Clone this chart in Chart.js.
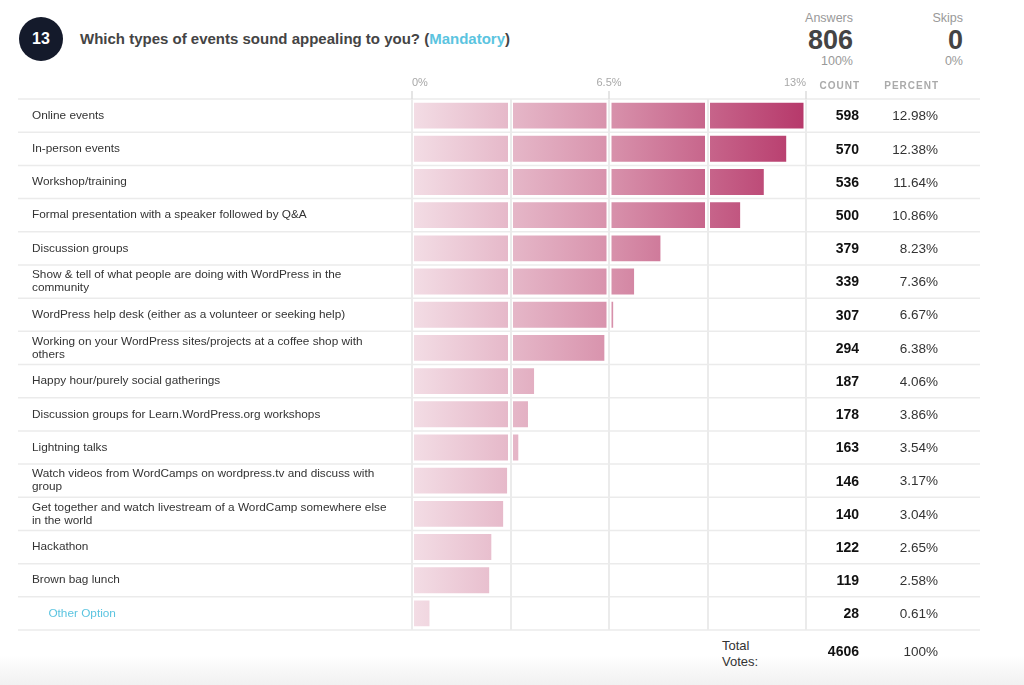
<!DOCTYPE html>
<html><head><meta charset="utf-8">
<script src="https://cdn.jsdelivr.net/npm/chart.js@4.4.1/dist/chart.umd.min.js"></script>
<style>
html,body{margin:0;padding:0;background:#fff;width:1024px;height:685px;overflow:hidden;font-family:"Liberation Sans",Arial,Helvetica,sans-serif;}
#wrap{position:relative;width:1024px;height:685px;}
.badge{position:absolute;left:19px;top:17px;width:44px;height:44px;border-radius:50%;background:#141a2b;color:#fff;font-weight:bold;font-size:16px;line-height:44px;text-align:center;}
.title{position:absolute;left:80px;top:30px;font-size:15px;font-weight:bold;color:#444;white-space:nowrap;}
.title span{color:#5bc4e0;}
.s{position:absolute;text-align:right;white-space:nowrap;line-height:1;}
.lab{color:#999;font-size:12.5px;}
.big{color:#444;font-size:27px;font-weight:bold;}
.tot{position:absolute;left:722px;top:638px;font-size:13px;line-height:16px;color:#333;}
.shade{position:absolute;left:0;right:0;bottom:0;height:30px;background:linear-gradient(rgba(244,244,244,0),#f1f1f1);}
#box{position:absolute;left:0;top:70px;width:1024px;height:600px;}
</style></head>
<body><div id="wrap">
<div class="shade"></div>
<div class="badge">13</div>
<div class="title">Which types of events sound appealing to you? (<span>Mandatory</span>)</div>
<div class="s lab" style="right:171px;top:12px;">Answers</div>
<div class="s big" style="right:171px;top:27px;">806</div>
<div class="s lab" style="right:171px;top:55px;">100%</div>
<div class="s lab" style="right:61px;top:12px;">Skips</div>
<div class="s big" style="right:61px;top:27px;">0</div>
<div class="s lab" style="right:61px;top:55px;">0%</div>
<div class="tot">Total<br>Votes:</div>
<div id="box"><canvas id="c"></canvas></div>
</div>
<script>
const categories = [
  "Online events",
  "In-person events",
  "Workshop/training",
  "Formal presentation with a speaker followed by Q&A",
  "Discussion groups",
  ["Show & tell of what people are doing with WordPress in the", "community"],
  "WordPress help desk (either as a volunteer or seeking help)",
  ["Working on your WordPress sites/projects at a coffee shop with", "others"],
  "Happy hour/purely social gatherings",
  "Discussion groups for Learn.WordPress.org workshops",
  "Lightning talks",
  ["Watch videos from WordCamps on wordpress.tv and discuss with", "group"],
  ["Get together and watch livestream of a WordCamp somewhere else", "in the world"],
  "Hackathon",
  "Brown bag lunch",
  "Other Option"
];
const counts = [598, 570, 536, 500, 379, 339, 307, 294, 187, 178, 163, 146, 140, 122, 119, 28];
const percents = [12.98, 12.38, 11.64, 10.86, 8.23, 7.36, 6.67, 6.38, 4.06, 3.86, 3.54, 3.17, 3.04, 2.65, 2.58, 0.61];
const totalVotes = 4606;
const totalPercent = "100%";
const axisMax = 13;
const axisStep = 3.25;

const FONT = '"Liberation Sans", Arial, Helvetica, sans-serif';
Chart.defaults.font.family = FONT;
const last = categories.length - 1;

const tablePlugin = {
  id: 'table',
  beforeDatasetsDraw(chart) {
    const ctx = chart.ctx, ys = chart.scales.y;
    const half = (ys.getPixelForValue(1) - ys.getPixelForValue(0)) / 2;
    ctx.save();
    ctx.strokeStyle = '#ebebeb'; ctx.lineWidth = 1.5;
    for (let i = 0; i <= categories.length; i++) {
      const y = (i < categories.length ? ys.getPixelForValue(i) - half : ys.getPixelForValue(last) + half);
      ctx.beginPath(); ctx.moveTo(18, y); ctx.lineTo(980, y); ctx.stroke();
    }
    ctx.restore();
  },
  afterDatasetsDraw(chart) {
    const ctx = chart.ctx, xs = chart.scales.x;
    const bars = chart.getDatasetMeta(0).data;
    ctx.save(); ctx.strokeStyle = '#fff'; ctx.lineWidth = 5;
    bars.forEach(b => {
      const p = b.getProps(['x', 'y', 'base', 'height'], true);
      xs.ticks.forEach(t => {
        const x = xs.getPixelForValue(t.value);
        if (x > p.base + 1 && x < p.x + 3) {
          ctx.beginPath(); ctx.moveTo(x, p.y - p.height / 2); ctx.lineTo(x, p.y + p.height / 2); ctx.stroke();
        }
      });
    });
    ctx.restore();
  },
  afterDraw(chart) {
    const ctx = chart.ctx, ys = chart.scales.y, a = chart.chartArea;
    ctx.save();
    ctx.textBaseline = 'middle'; ctx.textAlign = 'right';
    ctx.fillStyle = '#aaa';
    ctx.font = 'bold 10px ' + FONT;
    if ('letterSpacing' in ctx) ctx.letterSpacing = '1px';
    ctx.fillText('COUNT', 860, a.top - 13);
    ctx.fillText('PERCENT', 939, a.top - 13);
    if ('letterSpacing' in ctx) ctx.letterSpacing = '0px';
    counts.forEach((v, i) => {
      const y = ys.getPixelForValue(i);
      ctx.fillStyle = '#111'; ctx.font = 'bold 14px ' + FONT;
      ctx.fillText(String(v), 859, y + 1);
      ctx.fillStyle = '#333'; ctx.font = '13.5px ' + FONT;
      ctx.fillText(percents[i].toFixed(2) + '%', 938, y + 1);
    });
    const yt = a.bottom + 22;
    ctx.fillStyle = '#111'; ctx.font = 'bold 14px ' + FONT;
    ctx.fillText(String(totalVotes), 859, yt);
    ctx.fillStyle = '#333'; ctx.font = '13.5px ' + FONT;
    ctx.fillText(totalPercent, 938, yt);
    ctx.restore();
  }
};

new Chart(document.getElementById('c'), {
  type: 'bar',
  data: {
    labels: categories,
    datasets: [{
      data: percents,
      backgroundColor(c) {
        const a = c.chart.chartArea;
        if (!a) return '#d891ab';
        const g = c.chart.ctx.createLinearGradient(a.left, 0, a.right, 0);
        g.addColorStop(0, '#f3dde5');
        g.addColorStop(0.5, '#d892ac');
        g.addColorStop(1, '#b6386a');
        return g;
      },
      borderColor: 'rgba(255,255,255,0.35)',
      borderWidth: 1,
      borderSkipped: false,
      categoryPercentage: 1,
      barPercentage: 0.84
    }]
  },
  options: {
    indexAxis: 'y',
    responsive: true,
    maintainAspectRatio: false,
    animation: false,
    layout: { padding: { left: 32, right: 218, top: 0, bottom: 40 } },
    plugins: { legend: { display: false }, tooltip: { enabled: false } },
    scales: {
      x: {
        position: 'top',
        min: 0, max: axisMax,
        afterFit(s) { s.height = 29; },
        border: { display: false },
        grid: {
          z: 1,
          color: '#ebebeb', lineWidth: 2, drawTicks: true, tickLength: 8,
          tickColor(c) { return (c.tick && c.tick.value % 6.5 === 0) ? '#dcdcdc' : 'rgba(0,0,0,0)'; },
          tickWidth: 1.5
        },
        ticks: {
          stepSize: axisStep, autoSkip: false, maxRotation: 0, align: 'inner',
          color: '#a8a8a8', font: { size: 11 }, padding: 1,
          callback(v) { return (v % 6.5 === 0) ? v + '%' : ''; }
        }
      },
      y: {
        afterFit(s) { s.width = 380; },
        border: { display: false },
        grid: { display: false, drawTicks: false },
        ticks: {
          crossAlign: 'far', autoSkip: false, padding: 0,
          font: { size: 11.8, lineHeight: 1.1 },
          color(c) { return c.index === last ? '#5bc4e0' : '#333'; },
          callback(v, i) {
            const l = categories[i];
            return i === last ? '     ' + l : l;
          }
        }
      }
    }
  },
  plugins: [tablePlugin]
});
</script>
</body></html>
